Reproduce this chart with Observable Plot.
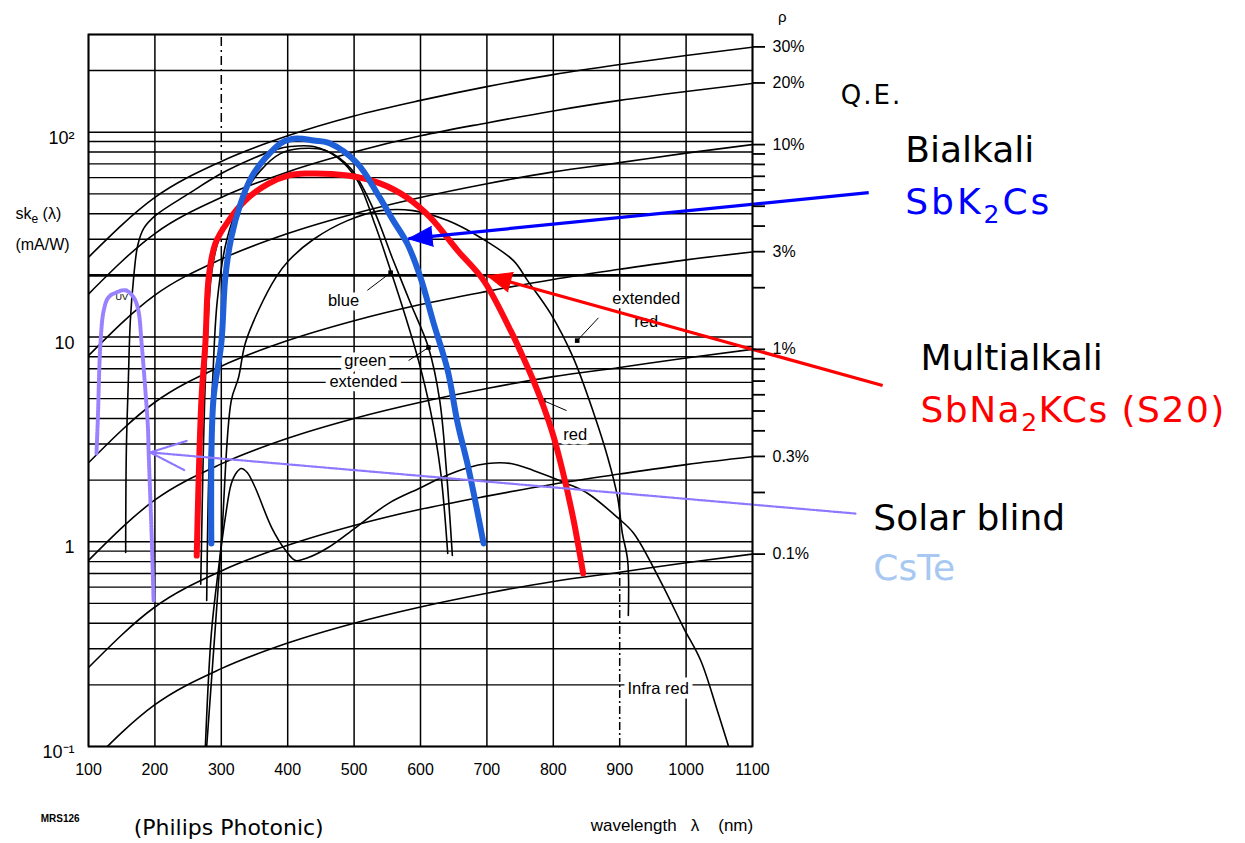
<!DOCTYPE html>
<html>
<head>
<meta charset="utf-8">
<script src="https://cdn.jsdelivr.net/npm/d3@7"></script>
<script src="https://cdn.jsdelivr.net/npm/@observablehq/plot@0.6"></script>
<style>
html,body{margin:0;padding:0;background:#fff;overflow:hidden;}
#chart svg{display:block;}
</style>
</head>
<body>
<div id="chart"></div>
<script>
// ---------- ticks & grid ----------
const xTicks = [100,200,300,400,500,600,700,800,900,1000,1100];
const yMajorTicks = [0.1, 1, 10, 100];
const yMajorLabels = ["10\u207B\u00B9", "1", "10", "10\u00B2"];
const yGridValues = [0.1,0.2,0.3,0.4,0.5,0.6,0.7,0.8,0.9,1,2,3,4,5,6,7,8,9,10,20,30,40,50,60,70,80,90,100,200,300];
const qeTickPercents = [0.1,0.2,0.3,0.4,0.5,0.6,0.7,0.8,0.9,1,2,3,4,5,6,7,8,9,10,20,30];
const qeLabeledPercents = [30,20,10,3,1,0.3,0.1];
const qeLabels = ["30%","20%","10%","3%","1%","0.3%","0.1%"];
const skPerPercentAt1100 = 8.7;   // read: 10 % tick sits at ~87 mA/W on the right edge

// ---------- iso quantum-efficiency lines (sk in mA/W read at each 100 nm) ----------
const qeLambda = [100,200,300,400,500,600,700,800,900,1000,1100];
const qe30  = [24.5, 48, 72, 96, 120, 143, 167, 191, 214, 237, 260];
const qe20  = [16.2, 32, 48, 64, 80, 96, 111, 127, 143, 158, 173];
const qe10  = [8.1, 16, 24, 32, 40, 48, 56, 64, 71, 79, 87];
const qe3   = [2.43, 4.8, 7.2, 9.6, 12, 14.4, 16.7, 19.1, 21.4, 23.8, 26];
const qe1   = [0.81, 1.6, 2.4, 3.2, 4.0, 4.8, 5.6, 6.4, 7.1, 7.9, 8.7];
const qe03  = [0.243, 0.48, 0.72, 0.96, 1.2, 1.44, 1.67, 1.91, 2.14, 2.38, 2.6];
const qe01  = [0.081, 0.16, 0.24, 0.32, 0.40, 0.48, 0.56, 0.64, 0.71, 0.79, 0.87];

// ---------- highlighted photocathodes ----------
const bialkaliLambda = [285,288,300,306,315,329,345,367,391,413,439,464,505,535,559,580,600,620,641,656,672,695];
const bialkaliSk     = [0.98,4.89,9.29,19.5,30.6,44.8,60.0,75.2,89.0,93.1,91.0,88.0,70.3,50.1,37.0,28.6,19.5,11.6,6.85,3.78,2.30,0.98];
const s20Lambda = [263,270,276,281,291,311,336,371,401,427,490,540,580,615,656,695,736,755,770,785,800,815,830,845];
const s20Sk     = [0.856,4.89,9.29,19.5,28.6,37.0,46.4,56.1,61.4,62.8,61.4,56.1,47.9,38.3,26.4,18.9,10.7,7.9,6.13,4.6,3.3,2.15,1.3,0.70];
const csteLambda = [112,114,118,123,130,142,156,168,175,180,186,189.5,190.5,195,198];
const csteSk     = [2.70,3.91,9.29,13.5,15.6,16.5,16.9,15.6,13.5,9.29,5.29,3.61,2.79,1.10,0.516];

// ---------- original (black) Philips curves ----------
const uvLambda = [156,157,160,163,168,174,183,201,251,300,351,382,404,439,475,505,532,555,577,597,615,630,641];
const uvSk     = [0.886,2.79,6.13,12.0,19.5,27.9,33.8,39.2,50.1,62.8,75.2,82.2,85.1,85.1,75.2,58.0,35.0,21.1,12.7,7.67,4.37,2.23,0.876];
const greenExtLambda = [278,281,287,294,308,329,359,389,419,457,495,528,558,585,612,629,639,648];
const greenExtSk     = [0.516,1.99,6.13,15.1,29.6,46.4,64.9,78.6,83.2,81.3,66.4,42.8,24.1,14.6,8.88,4.89,2.23,0.856];
const extRedLambda = [278,300,315,326,336,356,382,401,439,490,540,589,641,690,740,761,796,830,861,882,897,904,912,913];
const extRedSk     = [0.1,0.98,4.89,6.34,9.29,13.5,19.5,23.5,30.0,37.0,41.4,41.4,37.0,30.6,23.6,18.9,13.0,7.93,4.23,2.58,1.64,1.10,0.81,0.436];
const redLambda = [269,270,272,275,279,285,295,313,338,372,401,427,490,540,580,615,656,695,736,770,796,815,840];
const redSk     = [0.62,0.9,2.0,5.0,10,20,29,37.5,46.5,56,61,62,61,56,48,38,26.5,19,10.8,6.2,3.85,2.05,0.85];
const infraLambda = [276,285,296,306,315,323,330,339,351,376,397,412,431,461,502,552,601,632,671,701,736,770,821,852,897,921,961,996,1022,1047,1064];
const infraSk     = [0.1,0.356,0.748,1.31,1.92,2.18,2.28,2.18,1.84,1.17,0.906,0.81,0.837,0.937,1.17,1.54,1.84,2.06,2.30,2.41,2.41,2.23,1.92,1.72,1.31,1.10,0.646,0.381,0.263,0.150,0.1];

// ---------- annotations ----------
const bigLabels = [
  {t:"Bialkali", x:1330, y:81.3, c:"#000000"},
  {t:"SbK2Cs", x:1330, y:45.3, c:"#0000ff"},
  {t:"Multialkali", x:1353, y:7.84, c:"#000000"},
  {t:"SbNa2KCs (S20)", x:1353, y:4.37, c:"#ff0000"},
  {t:"Solar blind", x:1282, y:1.298, c:"#000000"},
  {t:"CsTe", x:1282, y:0.74, c:"#a6c8f2"}
];
const innerLabels = [
  {t:"blue", x:484, y:15.1},
  {t:"green", x:517, y:7.67},
  {t:"extended", x:514, y:6.06},
  {t:"extended", x:940, y:15.4},
  {t:"red", x:940, y:11.9},
  {t:"red", x:833, y:3.34},
  {t:"Infra red", x:958, y:0.192}
];
const pointers = [
  {x1:520, y1:16.9, x2:555, y2:20.6},
  {x1:582, y1:7.67, x2:612, y2:8.88},
  {x1:868, y1:12.4, x2:836, y2:9.6},
  {x1:820, y1:4.37, x2:785, y2:4.89}
];
const filledArrows = [
  {x1:1275, y1:50.7, x2:582, y2:30.2, c:"#0000ff"},
  {x1:1296, y1:5.79, x2:701, y2:19.9, c:"#ff0000"}
];
const solarArrow = [{x1:1255, y1:1.373, x2:193, y2:2.73}];

// ---------- layout ----------
const W = 1245, H = 843;
const M = {left:88, right:493, top:34, bottom:97};
const xDomain = [100, 1100], yDomain = [0.1, 300];

const toRows = (name, xs, ys) => xs.map((x, i) => ({name, x, y: ys[i]}));
const qeRows = [
  ...toRows("30", qeLambda, qe30), ...toRows("20", qeLambda, qe20), ...toRows("10", qeLambda, qe10),
  ...toRows("3", qeLambda, qe3), ...toRows("1", qeLambda, qe1), ...toRows("0.3", qeLambda, qe03),
  ...toRows("0.1", qeLambda, qe01)
];
const blackRows = [
  ...toRows("uv", uvLambda, uvSk), ...toRows("green", greenExtLambda, greenExtSk),
  ...toRows("extred", extRedLambda, extRedSk), ...toRows("red", redLambda, redSk),
  ...toRows("ir", infraLambda, infraSk)
];
const bialkali = toRows("bialkali", bialkaliLambda, bialkaliSk);
const s20 = toRows("s20", s20Lambda, s20Sk);
const cste = toRows("cste", csteLambda, csteSk);

const qeTickSk = qeTickPercents.map(p => p * skPerPercentAt1100);
const qeLabelRows = qeLabeledPercents.map((p, i) => ({sk: p * skPerPercentAt1100, label: qeLabels[i]}));
const yLabelMap = new Map(yMajorTicks.map((v, i) => [v, yMajorLabels[i]]));

// scales (same as the plot) to orient the filled arrow heads
const sx = Plot.scale({x: {domain: xDomain, range: [M.left, W - M.right]}});
const sy = Plot.scale({y: {type: "log", domain: yDomain, range: [H - M.bottom, M.top]}});
const headRotate = a => {
  const dx = sx.apply(a.x2) - sx.apply(a.x1), dy = sy.apply(a.y2) - sy.apply(a.y1);
  return Math.atan2(dx, -dy) * 180 / Math.PI;
};

const small = "Liberation Sans, Arial, sans-serif";
const big = "DejaVu Sans, Verdana, sans-serif";

let headMarks = [];
try {
  headMarks = filledArrows.map(a => Plot.vector([a], {
    x: "x2", y: "y2", rotate: headRotate(a), length: 24, r: 10, shape: "spike",
    anchor: "end", fill: a.c, stroke: a.c, strokeWidth: 1
  }));
} catch (e) {
  headMarks = filledArrows.flatMap(a => [10, 20, 30, 40, 46].map(ang =>
    Plot.arrow([a], {x1: "x1", y1: "y1", x2: "x2", y2: "y2", stroke: a.c, strokeWidth: 3, headLength: 24, headAngle: ang})));
}

const chart = Plot.plot({
  width: W, height: H,
  marginLeft: M.left, marginRight: M.right, marginTop: M.top, marginBottom: M.bottom,
  style: {fontFamily: small, background: "#fff", color: "#000"},
  x: {domain: xDomain},
  y: {type: "log", domain: yDomain},
  marks: [
    // grid
    Plot.ruleY(yGridValues, {stroke: "#000", strokeWidth: 1.4}),
    Plot.ruleY([20], {stroke: "#000", strokeWidth: 2.8}),
    Plot.ruleX([100,200,400,500,600,700,800,1000,1100], {stroke: "#000", strokeWidth: 1.5}),
    Plot.ruleX([300], {y1: 0.1, y2: 25, stroke: "#000", strokeWidth: 1.5}),
    Plot.ruleX([300], {y1: 25, y2: 300, stroke: "#000", strokeWidth: 1.5, strokeDasharray: "9,4,2,4"}),
    Plot.ruleX([900], {y1: 0.75, y2: 300, stroke: "#000", strokeWidth: 1.5}),
    Plot.ruleX([900], {y1: 0.1, y2: 0.75, stroke: "#000", strokeWidth: 1.5, strokeDasharray: "8,3,2,3"}),
    // iso-QE lines
    Plot.line(qeRows, {x: "x", y: "y", z: "name", curve: "monotone-x", stroke: "#000", strokeWidth: 1.6, clip: true}),
    // original black response curves
    Plot.line(blackRows, {x: "x", y: "y", z: "name", curve: "catmull-rom", stroke: "#000", strokeWidth: 1.6, clip: true}),
    // inner labels with white background
    Plot.text(innerLabels, {x: "x", y: "y", text: "t", fontSize: 16.5, fill: "#000", stroke: "#fff", strokeWidth: 9, paintOrder: "stroke", strokeLinejoin: "round", fontFamily: small}),
    Plot.text([{t:"UV", x:150, y:15.6}], {x: "x", y: "y", text: "t", fontSize: 9, fill: "#000", fontFamily: small}),
    Plot.link(pointers, {x1: "x1", y1: "y1", x2: "x2", y2: "y2", stroke: "#000", strokeWidth: 1}),
    Plot.dot(pointers, {x: "x2", y: "y2", r: 2.6, fill: "#000", symbol: "square"}),
    // highlighted photocathodes
    Plot.line(cste, {x: "x", y: "y", curve: "catmull-rom", stroke: "#9a82ff", strokeWidth: 4, strokeDasharray: "2,1.2"}),
    Plot.line(s20, {x: "x", y: "y", curve: "catmull-rom", stroke: "#ff0a14", strokeWidth: 6}),
    Plot.line(bialkali, {x: "x", y: "y", curve: "catmull-rom", stroke: "#1f5fd8", strokeWidth: 6}),
    // arrows from the legend labels
    Plot.arrow(solarArrow, {x1: "x1", y1: "y1", x2: "x2", y2: "y2", stroke: "#8f78ff", strokeWidth: 2.2, headLength: 26, headAngle: 45, strokeDasharray: "2,1.4"}),
    Plot.link(filledArrows.slice(0,1), {x1: "x1", y1: "y1", x2: "x2", y2: "y2", stroke: "#0000ff", strokeWidth: 3.2}),
    Plot.link(filledArrows.slice(1,2), {x1: "x1", y1: "y1", x2: "x2", y2: "y2", stroke: "#ff0000", strokeWidth: 3.2}),
    ...headMarks,
    // frame & axes
    Plot.frame({stroke: "#000", strokeWidth: 1.8}),
    Plot.axisX(xTicks, {anchor: "bottom", tickSize: 0, tickPadding: 17, fontSize: 16, tickFormat: d => `${d}`}),
    Plot.axisY(yMajorTicks, {anchor: "left", tickSize: 0, tickPadding: 14, dy: 6, fontSize: 18, tickFormat: d => yLabelMap.get(d)}),
    Plot.axisY(qeTickSk, {anchor: "right", tickSize: 12, strokeWidth: 1.8, tickFormat: () => ""}),
    Plot.text(qeLabelRows, {y: "sk", text: "label", frameAnchor: "right", dx: 20, textAnchor: "start", fontSize: 16, fontFamily: small}),
    // axis titles & notes
    Plot.text([{t:"ske (\u03BB)", x:-10, y:40}], {x: "x", y: "y", text: "t", textAnchor: "start", fontSize: 16, fontFamily: small}),
    Plot.text([{t:"(mA/W)", x:-10, y:28.3}], {x: "x", y: "y", text: "t", textAnchor: "start", fontSize: 16, fontFamily: small}),
    Plot.text([{t:"\u03C1", x:1145, y:363}], {x: "x", y: "y", text: "t", fontSize: 15, fontFamily: small}),
    Plot.text([{t:"wavelength\u00A0\u00A0\u00A0\u03BB\u00A0\u00A0\u00A0\u00A0(nm)", x:1101, y:0.0411}], {x: "x", y: "y", text: "t", textAnchor: "end", fontSize: 17, fontFamily: small}),
    Plot.text([{t:"MRS126", x:28, y:0.0445}], {x: "x", y: "y", text: "t", textAnchor: "start", fontSize: 10, fontWeight: "bold", fontFamily: small}),
    Plot.text([{t:"(Philips Photonic)", x:168, y:0.0398}], {x: "x", y: "y", text: "t", textAnchor: "start", fontSize: 22, fontFamily: big}),
    Plot.text([{t:"Q.E.", x:1233, y:151}], {x: "x", y: "y", text: "t", textAnchor: "start", fontSize: 26, fontFamily: big}),
    ...bigLabels.map(l => Plot.text([l], {x: "x", y: "y", text: "t", textAnchor: "start", fontSize: 36, fill: l.c, fontFamily: big}))
  ]
});

document.getElementById("chart").appendChild(chart);

// subscripts as real text (tspans)
function subscriptify(el, before, sub, after, fs, drop) {
  const t = d3.select(el);
  t.text(null);
  t.append("tspan").text(before);
  t.append("tspan").attr("dy", drop).attr("font-size", fs).text(sub);
  t.append("tspan").attr("dy", -drop).text(after);
}
d3.select(chart).selectAll("text").each(function() {
  const s = this.textContent;
  if (s === "SbK2Cs") { d3.select(this).attr("letter-spacing", 3); subscriptify(this, "SbK", "2", "Cs", 25, 9); }
  else if (s === "SbNa2KCs (S20)") { d3.select(this).attr("letter-spacing", 1.5); subscriptify(this, "SbNa", "2", "KCs (S20)", 25, 9); }
  else if (s === "ske (\u03BB)") { subscriptify(this, "sk", "e", " (\u03BB)", 12, 4); }
  else if (s === "Q.E.") d3.select(this).attr("letter-spacing", 2);
});
</script>
</body>
</html>
